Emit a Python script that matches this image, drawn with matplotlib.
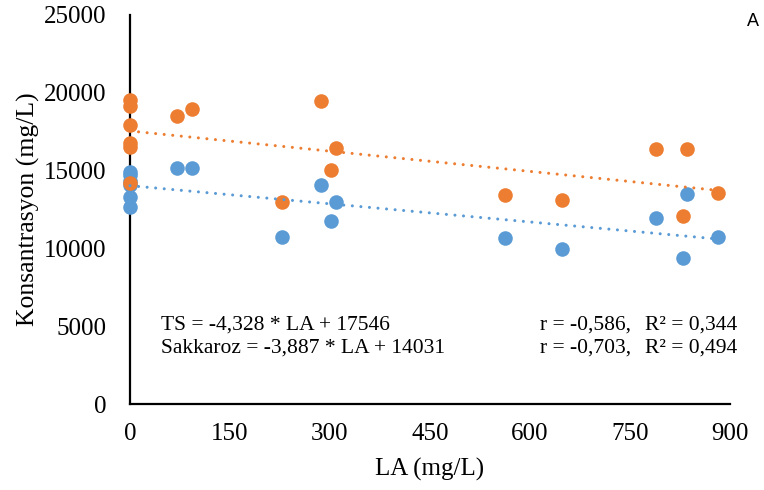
import matplotlib
matplotlib.use("Agg")
import matplotlib.pyplot as plt
import numpy as np

# Data (LA in mg/L, concentrations in mg/L)
ts_x = [0, 0, 0, 0, 0, 0, 71, 92.5, 227.5, 286, 301.5, 309, 562.5, 647.5, 789, 830, 835, 881.5]
ts_y = [19565, 19181, 17920, 16787, 16512, 14190, 18540, 18965, 12950, 19456, 15060, 16430,
        13420, 13080, 16377, 12090, 16377, 13550]
suc_x = [0, 0, 0, 0, 0, 0, 71, 92.5, 227.5, 286, 301.5, 309, 562.5, 647.5, 789, 830, 835, 881.5]
suc_y = [14900, 14700, 14300, 14100, 13300, 12630, 15150, 15190, 10710, 14080, 11776, 12950,
         10650, 9970, 11980, 9390, 13500, 10760]

ts_fit = (-4.328, 17546)
suc_fit = (-3.887, 14031)

x_ticks = [0, 150, 300, 450, 600, 750, 900]
y_ticks = [0, 5000, 10000, 15000, 20000, 25000]

orange = "#ED7D31"
blue = "#5B9BD5"

plt.rcParams['font.family'] = ['Liberation Serif', 'DejaVu Serif']

fig = plt.figure(figsize=(7.64, 4.90), dpi=100)
ax = fig.add_axes([130/764, 1-404/490, 600/764, 389/490])

ax.scatter(suc_x, suc_y, s=110, color=blue, zorder=3, linewidths=0, clip_on=False)
ax.scatter(ts_x, ts_y, s=110, color=orange, zorder=3, linewidths=0, clip_on=False)

xx = np.array([0, max(ts_x)])
ax.plot(xx, ts_fit[0]*xx + ts_fit[1], color=orange, lw=2.2,
        linestyle=(0, (0.01, 2.8)), dash_capstyle='round', zorder=4, clip_on=False)
xx2 = np.array([0, max(suc_x)])
ax.plot(xx2, suc_fit[0]*xx2 + suc_fit[1], color=blue, lw=2.2,
        linestyle=(0, (0.01, 2.8)), dash_capstyle='round', zorder=4, clip_on=False)

ax.set_xlim(0, 900)
ax.set_ylim(0, 25000)
ax.set_xticks(x_ticks)
ax.set_yticks(y_ticks)
ax.tick_params(length=0, labelsize=18)
ax.tick_params(axis='x', pad=14)
ax.tick_params(axis='y', pad=17)
for s in ['top', 'right']:
    ax.spines[s].set_visible(False)
for s in ['left', 'bottom']:
    ax.spines[s].set_linewidth(1.6)
    ax.spines[s].set_color('black')
    ax.spines[s].set_zorder(2)

ax.set_xlabel("LA (mg/L)", fontsize=18, labelpad=9)
ax.set_ylabel("Konsantrasyon (mg/L)", fontsize=18.5, labelpad=3)

fs = 15.5
y1 = 1 - 325/490
y2 = 1 - 348/490
ax.text(161/764, y1, "TS = -4,328 * LA + 17546", transform=fig.transFigure,
        fontsize=fs, va='center', ha='left')
ax.text(161/764, y2, "Sakkaroz = -3,887 * LA + 14031", transform=fig.transFigure,
        fontsize=fs, va='center', ha='left')
ax.text(540/764, y1, "r = -0,586,", transform=fig.transFigure,
        fontsize=fs, va='center', ha='left')
ax.text(540/764, y2, "r = -0,703,", transform=fig.transFigure,
        fontsize=fs, va='center', ha='left')
ax.text(645/764, y1, "R² = 0,344", transform=fig.transFigure,
        fontsize=fs, va='center', ha='left')
ax.text(645/764, y2, "R² = 0,494", transform=fig.transFigure,
        fontsize=fs, va='center', ha='left')

fig.text(753/764, 1-21/490, "A", fontsize=13, family=['Liberation Sans', 'DejaVu Sans'],
         va='center', ha='center')

fig.savefig("out.png", dpi=100)
